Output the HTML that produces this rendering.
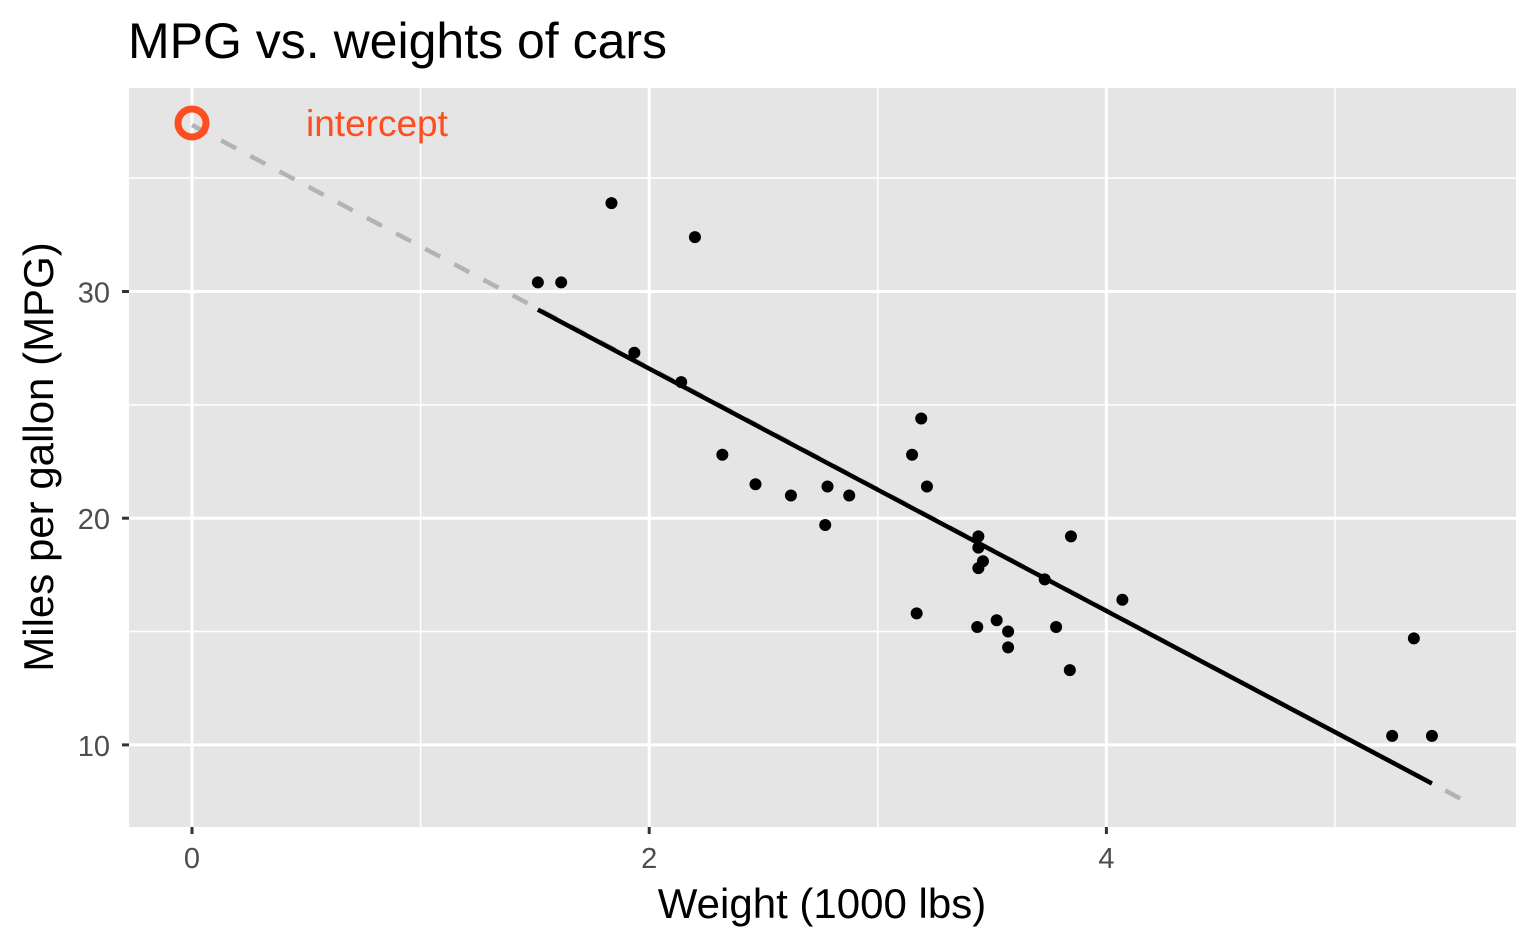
<!DOCTYPE html>
<html><head><meta charset="utf-8"><style>body{margin:0;background:#fff}svg{display:block}text{font-family:"Liberation Sans",Arial,sans-serif}</style></head>
<body>
<svg id="s" width="1536" height="949" xmlns="http://www.w3.org/2000/svg">
<rect x="129" y="88" width="1387" height="739" fill="#e5e5e5"/>
<g id="g"></g>
<text x="128" y="58" font-size="50" fill="#000">MPG vs. weights of cars</text>
<text x="822" y="918" font-size="42" text-anchor="middle" fill="#000">Weight (1000 lbs)</text>
<text transform="translate(53,457) rotate(-90)" font-size="42" text-anchor="middle" fill="#000">Miles per gallon (MPG)</text>
<text x="306" y="136" font-size="37" fill="#fc4e20">intercept</text>
</svg>
<script>
const X=v=>192+v*228.6, Y=v=>291.5-(v-30)*22.67;
let h='';
for(const v of [1,3,5])h+=`<line x1="${X(v)}" x2="${X(v)}" y1="88" y2="827" stroke="#fff" stroke-width="1.5"/>`;
for(const v of [15,25,35])h+=`<line y1="${Y(v)}" y2="${Y(v)}" x1="129" x2="1516" stroke="#fff" stroke-width="1.5"/>`;
for(const v of [0,2,4]){h+=`<line x1="${X(v)}" x2="${X(v)}" y1="88" y2="827" stroke="#fff" stroke-width="3"/><line x1="${X(v)}" x2="${X(v)}" y1="827" y2="834" stroke="#333" stroke-width="3"/><text x="${X(v)}" y="868" font-size="29" fill="#4d4d4d" text-anchor="middle">${v}</text>`;}
for(const v of [10,20,30]){h+=`<line y1="${Y(v)}" y2="${Y(v)}" x1="129" x2="1516" stroke="#fff" stroke-width="3"/><line y1="${Y(v)}" y2="${Y(v)}" x1="122" x2="129" stroke="#333" stroke-width="3"/><text x="110" y="${Y(v)+11}" font-size="29" fill="#4d4d4d" text-anchor="end">${v}</text>`;}
const f=w=>37.285-5.344*w;
h+=`<line x1="${X(0)}" y1="125" x2="${X(5.55)}" y2="${Y(f(5.55))}" stroke="#b3b3b3" stroke-width="4.5" stroke-dasharray="17,16"/>`;
h+=`<line x1="${X(1.513)}" y1="${Y(f(1.513))}" x2="${X(5.424)}" y2="${Y(f(5.424))}" stroke="#000" stroke-width="4.5"/>`;
const d=[[2.62,21],[2.875,21],[2.32,22.8],[3.215,21.4],[3.44,18.7],[3.46,18.1],[3.57,14.3],[3.19,24.4],[3.15,22.8],[3.44,19.2],[3.44,17.8],[4.07,16.4],[3.73,17.3],[3.78,15.2],[5.25,10.4],[5.424,10.4],[5.345,14.7],[2.2,32.4],[1.615,30.4],[1.835,33.9],[2.465,21.5],[3.52,15.5],[3.435,15.2],[3.84,13.3],[3.845,19.2],[1.935,27.3],[2.14,26],[1.513,30.4],[3.17,15.8],[2.77,19.7],[3.57,15],[2.78,21.4]];
for(const [w,m] of d)h+=`<circle cx="${X(w)}" cy="${Y(m)}" r="6" fill="#000"/>`;
h+=`<circle cx="192" cy="123" r="14" fill="none" stroke="#fc4e20" stroke-width="7"/>`;
document.getElementById('g').innerHTML=h;
</script>
</body></html>
